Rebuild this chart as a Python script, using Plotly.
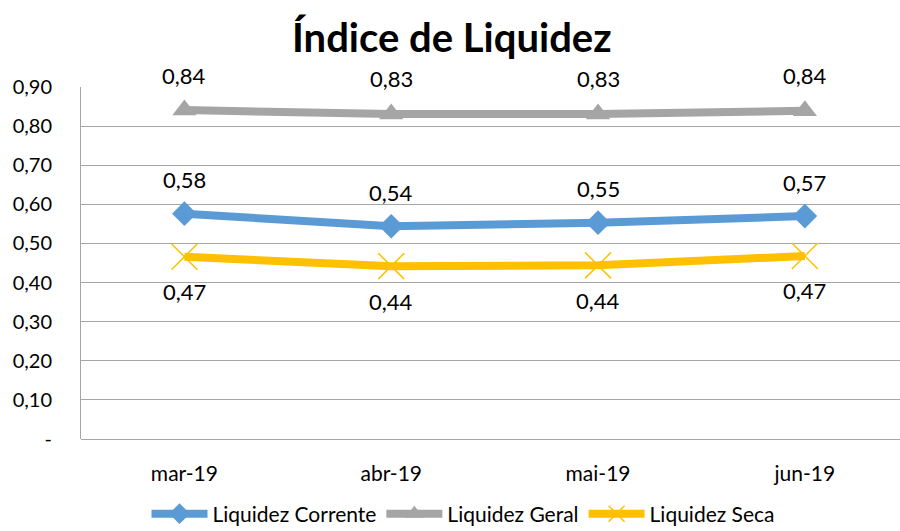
import plotly.graph_objects as go

categories = ["mar-19", "abr-19", "mai-19", "jun-19"]
corrente = [0.576, 0.544, 0.553, 0.570]
geral = [0.841, 0.831, 0.831, 0.839]
seca = [0.466, 0.442, 0.444, 0.468]

series_names = ["Liquidez Corrente", "Liquidez Geral", "Liquidez Seca"]
y_tickvals = [0, 0.1, 0.2, 0.3, 0.4, 0.5, 0.6, 0.7, 0.8, 0.9]
y_ticktext = ["-", "0,10", "0,20", "0,30", "0,40", "0,50", "0,60", "0,70", "0,80", "0,90"]

FONT = "Lato"
colors = ["#5B9BD5", "#A5A5A5", "#FFC000"]
symbols = ["diamond", "triangle-up", "x-thin"]
msizes = [19, 21, 26]
label_shift = [34, 35, -35]

fig = go.Figure()
all_series = [corrente, geral, seca]
for name, vals, c, s, ms in zip(series_names, all_series, colors, symbols, msizes):
    marker = dict(symbol=s, size=ms, color=c)
    if s == "x-thin":
        marker["line"] = dict(color=c, width=1.5)
    fig.add_trace(go.Scatter(
        x=categories, y=vals, name=name, mode="lines+markers",
        line=dict(color=c, width=8),
        marker=marker,
    ))

annotations = []
for vals, sh in zip(all_series, label_shift):
    for cat, v in zip(categories, vals):
        annotations.append(dict(
            x=cat, y=v, xref="x", yref="y", text=f"{round(v, 2):.2f}".replace(".", ","),
            showarrow=False, yshift=sh, font=dict(family=FONT, size=22, color="#000000"),
        ))

fig.update_layout(
    width=900, height=531,
    margin=dict(l=81, r=0, t=87, b=92),
    paper_bgcolor="white", plot_bgcolor="white",
    title=dict(text="<b>Índice de Liquidez</b>", x=0.502, xanchor="center",
               y=0.928, yanchor="middle",
               font=dict(family=FONT, size=40, color="#000000")),
    font=dict(family=FONT, size=20, color="#000000"),
    showlegend=True,
    legend=dict(orientation="h", x=0.515, xanchor="center", xref="container",
                y=0.032, yref="container", yanchor="middle",
                font=dict(family=FONT, size=21, color="#000000"),
                itemwidth=56, tracegroupgap=0),
    annotations=annotations,
)
fig.update_xaxes(
    type="category", range=[-0.5, 3.46], automargin=False,
    showgrid=False, showline=False, zeroline=False,
    ticks="outside", ticklen=16, tickcolor="rgba(0,0,0,0)",
    tickfont=dict(family=FONT, size=21, color="#000000"),
)
fig.update_yaxes(
    range=[0, 0.9], tickvals=y_tickvals, ticktext=y_ticktext, automargin=False,
    showgrid=True, gridcolor="#A6A6A6", gridwidth=1,
    showline=True, linecolor="#A6A6A6", linewidth=1,
    zeroline=True, zerolinecolor="#A6A6A6", zerolinewidth=1,
    ticks="outside", ticklen=24, tickcolor="rgba(0,0,0,0)",
    tickfont=dict(family=FONT, size=20, color="#000000"),
)

fig.write_html("out.html", config={"displayModeBar": False},
               post_script="document.body.style.margin='0';document.body.style.overflow='hidden';")
